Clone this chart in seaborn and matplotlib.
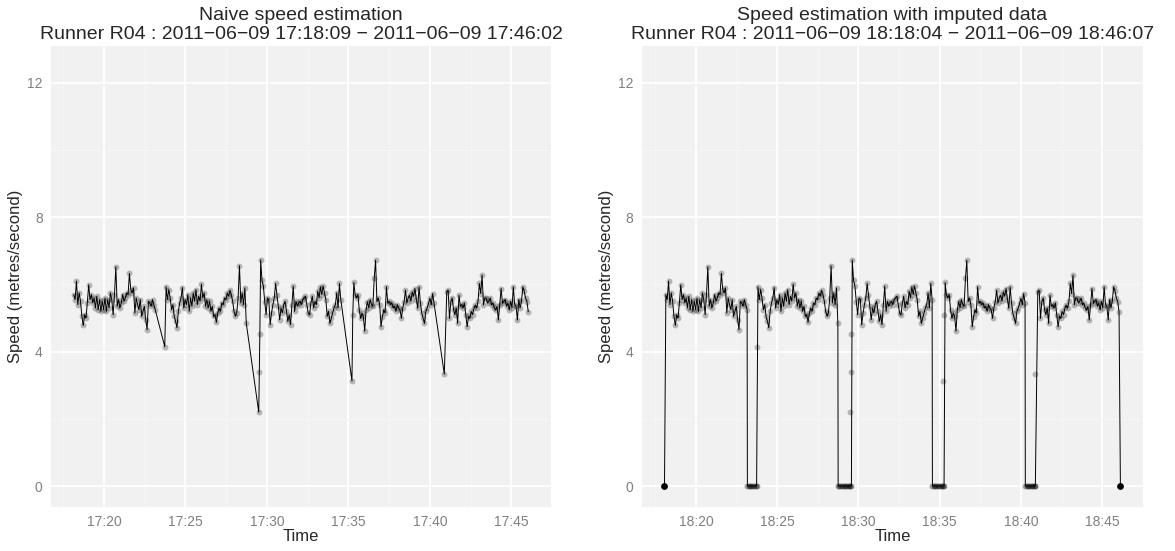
import numpy as np
import pandas as pd
import seaborn as sns
import matplotlib.pyplot as plt
import matplotlib.dates as mdates
from matplotlib.ticker import AutoMinorLocator

# seconds after the first GPS fix; fixes every 5 s inside each run
seg_start = [0, 340, 688, 1031, 1373]

seg1 = [5.70, 5.55, 6.10, 5.40, 5.75, 5.50, 5.05, 4.78, 5.10, 5.00,
        5.45, 5.99, 5.55, 5.70, 5.45, 5.60, 5.30, 5.65, 5.25, 5.55,
        5.20, 5.50, 5.25, 5.60, 5.20, 5.55, 5.30, 5.75, 5.55, 5.10,
        5.70, 6.53, 5.35, 5.55, 5.30, 5.45, 5.70, 5.50, 5.60, 5.75,
        5.70, 6.33, 5.85, 5.75, 5.90, 5.15, 5.60, 5.40, 5.25, 5.55,
        5.05, 5.20, 5.35, 4.95, 4.65, 5.50, 5.45, 5.35, 5.55, 5.40,
        5.25]
seg2 = [5.93, 5.55, 5.85, 5.60, 5.25, 5.40, 5.05, 4.90, 4.71, 5.20,
        5.45, 5.60, 5.91, 5.30, 5.55, 5.40, 5.70, 5.20, 5.60, 5.35,
        5.75, 5.50, 5.85, 5.40, 5.65, 5.50, 6.01, 5.60, 5.75, 5.35,
        5.55, 5.30, 5.50, 5.20, 5.35, 5.05, 5.10, 4.87, 5.15, 5.30,
        5.20, 5.45, 5.40, 5.60, 5.55, 5.75, 5.65, 5.83, 5.70, 5.50,
        5.20, 5.05, 5.15, 5.60, 6.56, 5.45, 5.75, 5.40, 5.90, 4.85]
seg3 = [6.73, 6.12, 5.95, 5.49, 5.10, 5.60, 5.55, 4.80, 5.15, 5.40,
        5.60, 6.03, 5.70, 5.35, 4.95, 5.30, 5.15, 5.40, 5.50, 5.20,
        4.90, 5.10, 4.80, 5.40, 5.95, 5.20, 5.50, 5.35, 5.45, 5.50,
        5.40, 5.55, 5.60, 5.65, 5.40, 5.15, 5.10, 5.45, 5.65, 5.30,
        5.50, 5.40, 5.80, 5.60, 5.93, 5.70, 5.95, 5.75, 5.55, 5.05,
        5.20, 4.84, 5.00, 5.15, 5.30, 5.40, 5.75, 5.30, 6.03, 5.55]
seg4 = [6.06, 5.68, 5.60, 5.70, 5.24, 4.99, 5.15, 5.05, 4.61, 5.25,
        5.49, 5.30, 5.55, 5.40, 5.35, 6.18, 6.72, 5.49, 5.60, 5.40,
        4.74, 5.04, 5.25, 5.15, 5.93, 5.44, 5.50, 5.40, 5.45, 5.30,
        5.35, 5.20, 5.40, 5.30, 5.24, 4.99, 5.30, 5.49, 5.83, 5.45,
        5.60, 5.68, 5.50, 5.78, 5.65, 5.88, 5.55, 5.29, 5.93, 5.45,
        5.15, 4.99, 4.84, 5.20, 5.30, 5.45, 5.59, 5.40, 5.73, 5.45]
seg5 = [5.78, 5.83, 4.99, 5.49, 5.60, 5.25, 5.10, 5.30, 4.84, 5.68,
        5.35, 5.40, 5.30, 5.45, 5.09, 4.74, 5.05, 4.99, 5.20, 5.10,
        5.29, 5.39, 5.30, 5.50, 6.03, 5.73, 6.28, 5.39, 5.60, 5.59,
        5.45, 5.50, 5.60, 5.39, 5.45, 5.30, 5.24, 5.35, 4.94, 5.40,
        5.88, 5.44, 5.50, 5.55, 5.35, 5.45, 5.24, 5.50, 5.30, 5.93,
        5.40, 5.35, 4.94, 5.55, 5.30, 5.50, 5.93, 5.80, 5.60, 5.49,
        5.19]

# first fixes after a signal loss -> low naive speed
dip_sec = [335, 681, 683, 685, 1024, 1027, 1364]
dip_speed = [4.15, 2.20, 3.40, 4.52, 3.13, 5.10, 3.33]

# imputed periods with speed 0
gap_from = [301, 636, 984, 1327]
gap_to = [335, 685, 1027, 1364]
end_sec = [-5, 1678]

t0_naive = pd.Timestamp('2011-06-09 17:18:09')
t0_imputed = pd.Timestamp('2011-06-09 18:18:09')

rows = []
for s0, vals in zip(seg_start, [seg1, seg2, seg3, seg4, seg5]):
    for i, v in enumerate(vals):
        rows.append((s0 + 5 * i, v))
seg = pd.DataFrame(rows, columns=['sec', 'speed'])
dips = pd.DataFrame({'sec': dip_sec, 'speed': dip_speed})
naive = pd.concat([seg, dips]).sort_values('sec')

zero_sec = np.concatenate([np.append(np.arange(a, b, 5), b) for a, b in zip(gap_from, gap_to)])
zeros = pd.DataFrame({'sec': zero_sec, 'speed': 0.0})
ends = pd.DataFrame({'sec': end_sec, 'speed': 0.0})
imputed = pd.concat([seg, zeros, ends]).sort_values('sec')

naive['t1'] = t0_naive + pd.to_timedelta(naive['sec'], unit='s')
naive['t2'] = t0_imputed + pd.to_timedelta(naive['sec'], unit='s')
zeros['t2'] = t0_imputed + pd.to_timedelta(zeros['sec'], unit='s')
ends['t2'] = t0_imputed + pd.to_timedelta(ends['sec'], unit='s')
imputed['t2'] = t0_imputed + pd.to_timedelta(imputed['sec'], unit='s')

sns.set_style('white')
plt.rcParams['font.family'] = ['Liberation Sans', 'DejaVu Sans']

fig = plt.figure(figsize=(11.75, 5.51), dpi=100)
ax1 = fig.add_axes([51 / 1175, 1 - 507 / 551, 500 / 1175, 461 / 551])
ax2 = fig.add_axes([641.7 / 1175, 1 - 507 / 551, 501.5 / 1175, 461 / 551])


def style(ax, times, title):
    lo, hi = times.min(), times.max()
    pad = (hi - lo) * 0.05
    ax.set_xlim(lo - pad, hi + pad)
    ax.set_ylim(-0.624, 13.1)
    ax.set_facecolor('#F1F1F1')
    for s in ax.spines.values():
        s.set_visible(False)
    ax.xaxis.set_major_locator(mdates.MinuteLocator(byminute=range(0, 60, 5)))
    ax.xaxis.set_major_formatter(mdates.DateFormatter('%H:%M'))
    ax.xaxis.set_minor_locator(AutoMinorLocator(2))
    ax.set_yticks([0, 4, 8, 12])
    ax.yaxis.set_minor_locator(AutoMinorLocator(2))
    ax.grid(which='major', color='white', lw=1.3)
    ax.grid(which='minor', color='#F7F7F7', lw=0.6)
    ax.set_axisbelow(True)
    ax.tick_params(which='major', length=4, width=0.8, color='#333333',
                   labelcolor='#808080', labelsize=10, pad=2)
    ax.tick_params(which='minor', length=0)
    ax.set_xlabel('Time', fontsize=12, labelpad=0)
    ax.set_ylabel('Speed (metres/second)', fontsize=12, labelpad=3)
    ax.set_title(title, fontsize=14, linespacing=1.12, pad=5)


# naive panel
sns.scatterplot(data=naive, x='t1', y='speed', ax=ax1, color='black', alpha=0.25,
                s=18, linewidth=0, zorder=2)
sns.lineplot(data=naive, x='t1', y='speed', ax=ax1, color='black', lw=0.7,
             estimator=None, sort=False, zorder=3)
style(ax1, naive['t1'],
      'Naive speed estimation\nRunner R04 : 2011\u221206\u221209 17:18:09 \u2212 2011\u221206\u221209 17:46:02')

# imputed panel
sns.scatterplot(data=naive, x='t2', y='speed', ax=ax2, color='black', alpha=0.25,
                s=18, linewidth=0, zorder=2)
sns.scatterplot(data=zeros, x='t2', y='speed', ax=ax2, color='black', alpha=0.35,
                s=18, linewidth=0, zorder=2)
sns.lineplot(data=imputed, x='t2', y='speed', ax=ax2, color='black', lw=0.7,
             estimator=None, sort=False, zorder=3)
sns.scatterplot(data=ends, x='t2', y='speed', ax=ax2, color='black',
                s=24, linewidth=0, zorder=4)
style(ax2, imputed['t2'],
      'Speed estimation with imputed data\nRunner R04 : 2011\u221206\u221209 18:18:04 \u2212 2011\u221206\u221209 18:46:07')

fig.savefig('out.png', dpi=100)
